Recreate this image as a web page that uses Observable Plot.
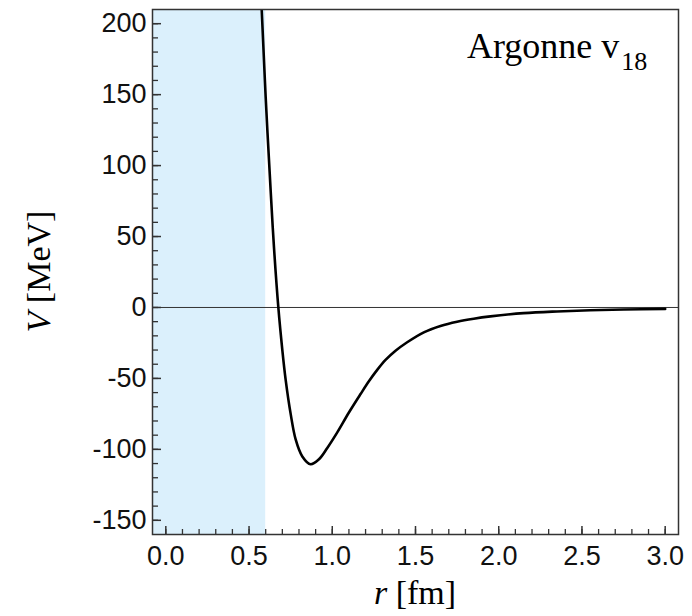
<!DOCTYPE html>
<html>
<head>
<meta charset="utf-8">
<script src="https://cdn.jsdelivr.net/npm/d3@7"></script>
<script src="https://cdn.jsdelivr.net/npm/@observablehq/plot@0.6"></script>
<style>
  html, body { margin: 0; padding: 0; background: #ffffff; }
  #chart { width: 692px; height: 616px; }
</style>
</head>
<body>
<div id="chart"></div>
<script>
// ---- data ----
const rValues = [0.55, 0.576, 0.60, 0.63, 0.65, 0.676, 0.70, 0.72, 0.75, 0.78, 0.82, 0.87, 0.92, 0.97, 1.03, 1.10, 1.17, 1.22, 1.27, 1.32, 1.38, 1.45, 1.55, 1.65, 1.75, 1.85, 1.95, 2.15, 2.35, 2.55, 2.75, 3.0];
const vValues = [260, 210, 148, 82, 42, 0, -30, -51, -75, -93, -105, -110.5, -107, -99, -88, -74, -61, -52, -44, -37, -30.5, -24.5, -17.5, -13, -10, -7.9, -6.3, -4, -2.8, -2, -1.4, -1];

const xMajorTicks = [0, 0.5, 1, 1.5, 2, 2.5, 3];
const yMajorTicks = [-150, -100, -50, 0, 50, 100, 150, 200];
const xMinorTicks = d3.range(0, 3.001, 0.1);
const yMinorTicks = d3.range(-150, 201, 10);
const xDomain = [-0.08, 3.08];
const yDomain = [-160, 210];
const coreRadius = [-0.08, 0.6];
const titleMain = "Argonne v";
const titleSub = "18";
const xLabelVar = "r";
const xLabelUnit = " [fm]";
const yLabelVar = "V";
const yLabelUnit = " [MeV]";

// ---- layout ----
const W = 692, H = 616;
const mL = 152, mR = 14, mT = 9, mB = 82;
const fW = W - mL - mR, fH = H - mT - mB;

const curve = rValues.map((r, i) => ({r, v: vValues[i]}));
const ink = "#333";

const plot = Plot.plot({
  width: W,
  height: H,
  marginLeft: mL,
  marginRight: mR,
  marginTop: mT,
  marginBottom: mB,
  style: {fontFamily: "'Liberation Sans', Arial, sans-serif", fontSize: "27px", color: "#111", background: "#fff"},
  x: {domain: xDomain},
  y: {domain: yDomain},
  marks: [
    Plot.rect([{x1: coreRadius[0], x2: coreRadius[1]}], {x1: "x1", x2: "x2", fill: "#dbf0fc"}),
    Plot.ruleY([0], {stroke: ink, strokeWidth: 1}),
    Plot.line(curve, {x: "r", y: "v", stroke: "#000", strokeWidth: 2.6, curve: "catmull-rom", clip: true}),
    // inward ticks
    Plot.tickX(xMinorTicks, {x: d => d, insetTop: fH - 5, stroke: ink, strokeWidth: 1.3}),
    Plot.tickX(xMajorTicks, {x: d => d, insetTop: fH - 8, stroke: ink, strokeWidth: 1.5}),
    Plot.tickY(yMinorTicks, {y: d => d, insetRight: fW - 6, stroke: ink, strokeWidth: 1.3}),
    Plot.tickY(yMajorTicks, {y: d => d, insetRight: fW - 9, stroke: ink, strokeWidth: 1.5}),
    Plot.axisX(xMajorTicks, {tickSize: 0, tickPadding: 11, tickFormat: d => d.toFixed(1), label: null, fontSize: 27}),
    Plot.axisY(yMajorTicks, {tickSize: 0, tickPadding: 6, tickFormat: d => String(d), label: null, fontSize: 27}),
    Plot.frame({stroke: ink, strokeWidth: 1.5})
  ]
});

document.getElementById("chart").appendChild(plot);

// ---- text annotations (serif labels with italics / subscript) ----
const svg = d3.select(plot);
const serif = "'Liberation Serif', 'Times New Roman', serif";

// title in the upper right
const t = svg.append("text")
  .attr("x", 467)
  .attr("y", mT + 49)
  .attr("text-anchor", "start")
  .attr("font-family", serif)
  .attr("font-size", 36)
  .attr("fill", "#000");
t.append("tspan").text(titleMain);
t.append("tspan").attr("dx", 2).attr("dy", 12).attr("font-size", 26).text(titleSub);

// x label
const xl = svg.append("text")
  .attr("x", mL + fW / 2)
  .attr("y", 604)
  .attr("text-anchor", "middle")
  .attr("font-family", serif)
  .attr("font-size", 34)
  .attr("fill", "#000");
xl.append("tspan").attr("font-style", "italic").text(xLabelVar);
xl.append("tspan").text(xLabelUnit);

// y label
const yl = svg.append("text")
  .attr("transform", `translate(${50},${mT + fH / 2}) rotate(-90)`)
  .attr("text-anchor", "middle")
  .attr("font-family", serif)
  .attr("font-size", 34)
  .attr("fill", "#000");
yl.append("tspan").attr("font-style", "italic").text(yLabelVar);
yl.append("tspan").text(yLabelUnit);
</script>
</body>
</html>
